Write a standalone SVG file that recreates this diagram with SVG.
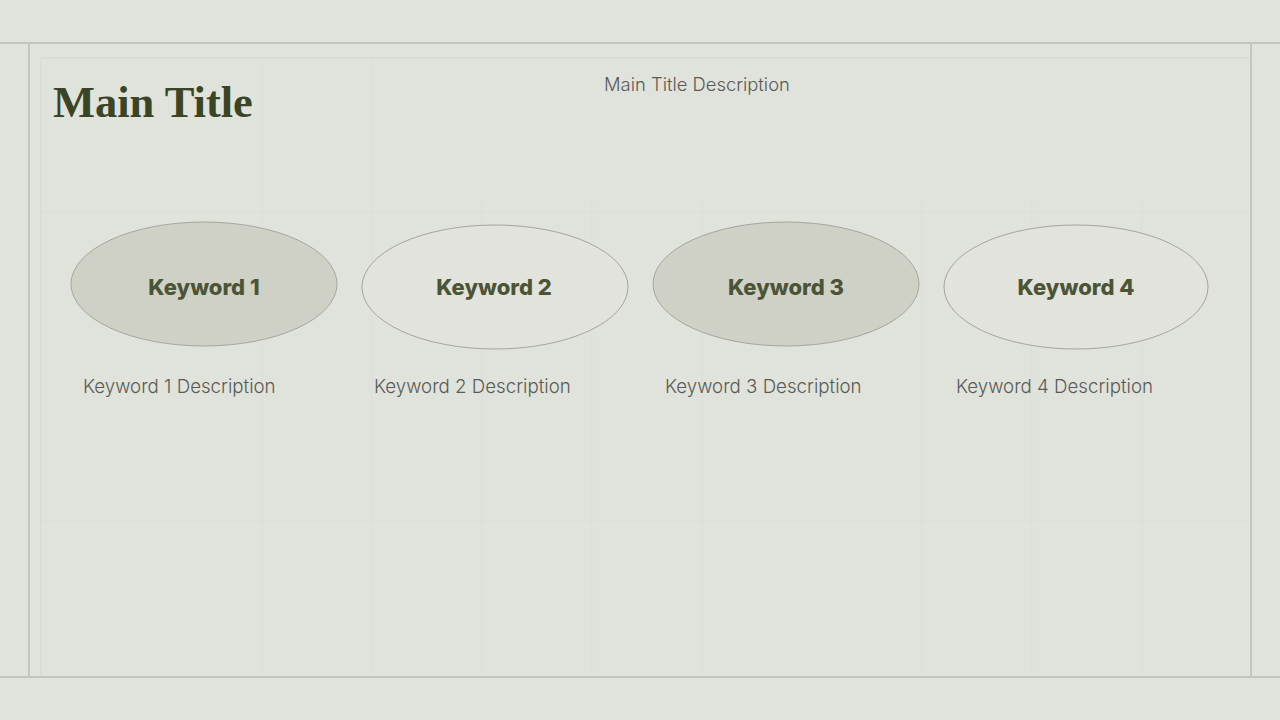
<svg xmlns="http://www.w3.org/2000/svg" width="1280" height="720" viewBox="0 0 1280 720">
<style>
.frame{fill:none;stroke:#c3c6bd;stroke-width:2}
.inner{fill:none;stroke:#d3d6ce;stroke-width:1}
.grid{stroke:#d9dbd4;stroke-width:1;opacity:0.6}
.filled{fill:#cfd1c6;stroke:#a4a79c;stroke-width:1}
.empty{fill:#e1e3dc;stroke:#a4a79c;stroke-width:1}
.kw{font-family:Inter,"Liberation Sans",sans-serif;font-weight:800;font-size:22px;fill:#4b5536;text-anchor:middle}
.desc{font-family:Inter,"Liberation Sans",sans-serif;font-weight:300;font-size:18.7px;fill:#595b55}
.tdesc{font-family:Inter,"Liberation Sans",sans-serif;font-weight:300;font-size:18.4px;fill:#595b55}
.title{font-family:"Liberation Serif","DejaVu Serif",serif;font-weight:700;font-size:44.5px;fill:#3a4525}
</style>
<rect width="1280" height="720" fill="#e0e2dc"/>
<g id="background">
<line class="frame" x1="0" y1="43" x2="1280" y2="43"/>
<line class="frame" x1="0" y1="677" x2="1280" y2="677"/>
<line class="frame" x1="29" y1="43" x2="29" y2="677"/>
<line class="frame" x1="1251" y1="43" x2="1251" y2="677"/>
<line class="inner" x1="41" y1="58" x2="1251" y2="58"/>
<line class="inner" x1="41" y1="58" x2="41" y2="677"/>
<g class="grid">
<line x1="262" y1="58" x2="262" y2="677"/>
<line x1="372" y1="58" x2="372" y2="677"/>
<line x1="482" y1="200" x2="482" y2="677"/>
<line x1="592" y1="200" x2="592" y2="677"/>
<line x1="702" y1="200" x2="702" y2="677"/>
<line x1="922" y1="200" x2="922" y2="677"/>
<line x1="1032" y1="200" x2="1032" y2="677"/>
<line x1="1142" y1="200" x2="1142" y2="677"/>
<line x1="41" y1="212" x2="1251" y2="212"/>
<line x1="41" y1="522" x2="1251" y2="522"/>
</g>
</g>
<g id="title">
<text class="title" x="53" y="117">Main Title</text>
<text class="tdesc" x="604" y="91">Main Title Description</text>
</g>
<g id="keyword1">
<ellipse class="filled" cx="204" cy="284" rx="133" ry="62"/>
<text class="kw" x="204" y="295">Keyword 1</text>
<text class="desc" x="83" y="393">Keyword 1 Description</text>
</g>
<g id="keyword2">
<ellipse class="empty" cx="495" cy="287" rx="133" ry="62"/>
<text class="kw" x="494" y="295">Keyword 2</text>
<text class="desc" x="374" y="393">Keyword 2 Description</text>
</g>
<g id="keyword3">
<ellipse class="filled" cx="786" cy="284" rx="133" ry="62"/>
<text class="kw" x="786" y="295">Keyword 3</text>
<text class="desc" x="665" y="393">Keyword 3 Description</text>
</g>
<g id="keyword4">
<ellipse class="empty" cx="1076" cy="287" rx="132" ry="62"/>
<text class="kw" x="1076" y="295">Keyword 4</text>
<text class="desc" x="956" y="393">Keyword 4 Description</text>
</g>
<g id="connectors"/>
</svg>
